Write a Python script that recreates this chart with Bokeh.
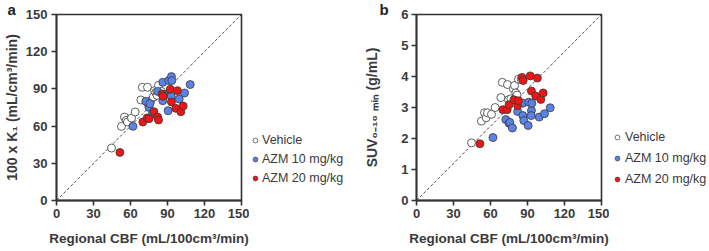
from bokeh.plotting import figure
from bokeh.layouts import row
from bokeh.models import Legend, LegendItem, Title, FixedTicker, Range1d
from bokeh.embed import file_html
from bokeh.resources import INLINE

# ---- data ----
veh_cbf = [44.6, 52.7, 55.1, 56.5, 57.5, 60.8, 63.8, 68.4, 69.6, 73.8, 74.6, 76.5, 78.5, 79.5, 80.5, 81.5, 82.7, 85.0]
veh_k1 = [42.3, 59.8, 67.3, 64.6, 63.3, 66.5, 71.4, 81.1, 91.3, 91.3, 77.3, 80.5, 83.5, 88.6, 87.0, 84.8, 92.9, 88.0]
veh_suv = [1.86, 2.56, 2.83, 2.67, 2.83, 2.78, 3.00, 3.32, 3.81, 3.74, 3.25, 3.28, 3.61, 3.71, 3.47, 3.40, 3.91, 3.90]

a10_cbf = [62.0, 72.4, 75.0, 75.7, 77.8, 82.0, 86.2, 86.2, 87.0, 90.5, 91.0, 93.2, 93.5, 93.0, 99.5, 103.8, 108.4]
a10_k1 = [59.8, 80.0, 75.1, 78.1, 70.0, 88.0, 95.3, 80.5, 85.4, 72.4, 96.7, 99.9, 96.7, 84.0, 81.9, 86.7, 93.5]
a10_suv = [2.03, 2.61, 2.49, 2.52, 2.34, 2.87, 3.14, 2.74, 2.58, 2.42, 3.17, 2.90, 3.14, 2.74, 2.69, 2.80, 2.99]

a20_cbf = [51.4, 70.0, 73.5, 75.0, 79.0, 82.0, 82.7, 85.5, 86.5, 92.2, 93.2, 96.7, 98.0, 100.8, 102.7]
a20_k1 = [38.8, 63.3, 66.5, 66.0, 71.6, 67.3, 64.9, 85.9, 84.0, 89.7, 79.5, 74.3, 88.6, 71.6, 76.2]
a20_suv = [1.83, 2.93, 2.93, 3.09, 3.25, 3.06, 3.22, 3.97, 3.87, 4.02, 3.53, 3.37, 3.95, 3.26, 3.47]

group_names = ["Vehicle", "AZM 10 mg/kg", "AZM 20 mg/kg"]
group_colors = ["white", "#5b82e6", "#f01414"]

x_ticks = [0, 30, 60, 90, 120, 150]
ya_ticks = [0, 30, 60, 90, 120, 150]
yb_ticks = [0, 1, 2, 3, 4, 5, 6]

diag_x = [0, 150]
diag_ya = [0, 150]
diag_yb = [0, 6]

FONT = "Liberation Sans"
TXT = "#3a3a3a"
AX = "#333333"
EDGE = 8  # room right of the frame for the outline and the x-axis title


def make_plot(ys, ymax, yticks, diag_y, ylabel, letter, letter_offset, top,
              tick_standoff, label_standoff):
    p = figure(width=241 + EDGE, height=251, output_backend="svg", toolbar_location=None,
               frame_width=185, frame_height=186,
               x_range=Range1d(0, 150), y_range=Range1d(0, ymax),
               min_border_left=56, min_border_right=EDGE,
               min_border_top=top, min_border_bottom=251 - 186 - top)
    p.grid.visible = False
    p.background_fill_color = "white"
    p.border_fill_color = "white"
    p.outline_line_color = AX
    p.outline_line_width = 1.6
    for ax in (p.xaxis[0], p.yaxis[0]):
        ax.axis_line_color = AX
        ax.axis_line_width = 1.8
        ax.major_tick_line_color = AX
        ax.major_tick_line_width = 1.6
        ax.major_tick_out = 5
        ax.major_tick_in = 0
        ax.minor_tick_line_color = None
        ax.major_label_text_font = FONT
        ax.major_label_text_font_style = "bold"
        ax.major_label_text_font_size = "13px"
        ax.major_label_text_color = TXT
        ax.axis_label_text_font = FONT
        ax.axis_label_text_font_style = "bold"
        ax.axis_label_text_color = TXT
    p.xaxis.axis_label_text_font_size = "13.5px"
    p.yaxis.axis_label_text_font_size = "14px"
    p.xaxis.ticker = FixedTicker(ticks=x_ticks)
    p.yaxis.ticker = FixedTicker(ticks=yticks)
    p.xaxis.axis_label = "Regional CBF (mL/100cm\u00b3/min)"
    p.xaxis.major_label_standoff = 3
    p.xaxis.axis_label_standoff = 10
    p.yaxis.axis_label = ylabel
    p.yaxis.major_label_standoff = tick_standoff
    p.yaxis.axis_label_standoff = label_standoff

    p.line(diag_x, diag_y, line_color="#222222", line_width=0.8, line_dash="3 2")

    cbfs = [veh_cbf, a10_cbf, a20_cbf]
    for col, xs, yv in zip(group_colors, cbfs, ys):
        p.scatter(xs, yv, size=8, fill_color=col, line_color="#3a3a3a", line_width=0.8)

    t = Title(text=letter, align="left", offset=letter_offset, standoff=-6,
              text_font=FONT, text_font_style="bold", text_font_size="15px",
              text_color="#222222")
    p.add_layout(t, "above")
    return p


def make_legend(width, ys, leg_x, leg_y, leg_spacing, standoff):
    # same groups drawn out of view; only their legend shows
    q = figure(width=width, height=251, output_backend="svg", toolbar_location=None,
               x_range=Range1d(0, 1), y_range=Range1d(0, 1),
               min_border_left=0, min_border_right=0, min_border_top=0, min_border_bottom=0)
    q.xaxis.visible = False
    q.yaxis.visible = False
    q.grid.visible = False
    q.outline_line_color = None
    q.background_fill_color = "white"
    q.border_fill_color = "white"
    items = []
    cbfs = [veh_cbf, a10_cbf, a20_cbf]
    for name, col, xs, yv in zip(group_names, group_colors, cbfs, ys):
        r = q.scatter(xs, yv, size=5.5, fill_color=col, line_color="#3a3a3a", line_width=0.7)
        items.append(LegendItem(label=name, renderers=[r]))
    leg = Legend(items=items, location=(leg_x, leg_y), border_line_color=None,
                 background_fill_alpha=0, padding=0, margin=0, spacing=leg_spacing,
                 glyph_width=12, glyph_height=18, label_height=18, label_standoff=standoff,
                 label_text_font=FONT, label_text_font_size="12.5px", label_text_color=TXT)
    q.add_layout(leg)
    return q


pa = make_plot([veh_k1, a10_k1, a20_k1], 150, ya_ticks, diag_ya,
               "100 x K\u2081 (mL/cm\u00b3/min)", "a", -49, 13, 4, 3)
la = make_legend(360 - 241 - EDGE, [veh_k1, a10_k1, a20_k1], 0, 12, 1, 1)
pb = make_plot([veh_suv, a10_suv, a20_suv], 6, yb_ticks, diag_yb,
               "SUV\u2080\u208b\u2081\u2080 \u2098\u1d62\u2099 (g/mL)", "b", -37, 14, 3, 18)
lb = make_legend(349 - 241 - EDGE, [veh_suv, a10_suv, a20_suv], 2, 11, 3, 2)

layout = row(pa, la, pb, lb, spacing=0)
open("out.html", "w").write(file_html(layout, INLINE))
